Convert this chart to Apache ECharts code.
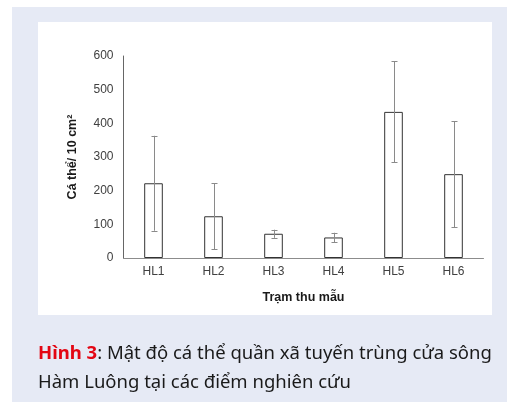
<!DOCTYPE html>
<html><head><meta charset="utf-8">
<script src="https://cdn.jsdelivr.net/npm/echarts@6/dist/echarts.min.js"></script>
<style>html,body{margin:0;padding:0;background:#fff}#c{width:507px;height:402px}</style>
</head><body><div id="c"></div>
<script>
const categories = ['HL1','HL2','HL3','HL4','HL5','HL6'];
const means = [222, 124, 72, 61, 434, 249];
const errors = [141, 98, 12, 14, 150, 157];
const yTicks = {min:0, max:600, interval:100};

const chart = echarts.init(document.getElementById('c'), null, {renderer:'canvas'});
const errData = categories.map((c,i)=>[i, means[i]-errors[i], means[i]+errors[i]]);
chart.setOption({
  animation:false,
  graphic:[
    {type:'rect', z:-10, shape:{x:12,y:7,width:495,height:395}, style:{fill:'#e6eaf5'}},
    {type:'rect', z:-9, shape:{x:38,y:22,width:454,height:293}, style:{fill:'#ffffff'}},
    {type:'text', left:38, top:344, style:{
      rich:{r:{fill:'#e30613', fontWeight:'bold', fontSize:18.5, fontFamily:'Noto Sans'}, n:{fill:'#1a1a1a', fontSize:18.5, fontFamily:'Noto Sans'}},
      text:'{r|Hình 3}{n|: Mật độ cá thể quần xã tuyến trùng cửa sông}'
    }},
    {type:'text', left:38, top:373, style:{
      text:'Hàm Luông tại các điểm nghiên cứu', fill:'#1a1a1a', fontSize:18.5, fontFamily:'Noto Sans'
    }}
  ],
  grid:{left:123.5, right:23.5, top:56, bottom:144},
  xAxis:{type:'category', data:categories,
    axisLine:{lineStyle:{color:'#8c8c8c', width:1}}, axisTick:{show:false},
    axisLabel:{color:'#404040', fontSize:12, fontFamily:'Liberation Sans', margin:8},
    name:'Trạm thu mẫu', nameLocation:'middle', nameGap:33,
    nameTextStyle:{color:'#1a1a1a', fontWeight:'bold', fontSize:12.5, fontFamily:'Liberation Sans'}
  },
  yAxis:{type:'value', min:yTicks.min, max:yTicks.max, interval:yTicks.interval,
    axisLine:{show:true, lineStyle:{color:'#666666', width:1}}, axisTick:{show:false}, splitLine:{show:false},
    axisLabel:{color:'#404040', fontSize:12, fontFamily:'Liberation Sans', margin:10},
    name:'Cá thể/ 10 cm²', nameLocation:'middle', nameGap:44, nameRotate:90,
    nameTextStyle:{color:'#1a1a1a', fontWeight:'bold', fontSize:12.5, fontFamily:'Liberation Sans'}
  },
  series:[
    {type:'bar', data:means, barWidth:'31%', itemStyle:{color:'#ffffff', borderColor:'#333333', borderWidth:1}, z:2},
    {type:'custom', data:errData, z:3,
      renderItem:function(params, api){
        const x = api.value(0);
        const lo = api.coord([x, api.value(1)]);
        const hi = api.coord([x, api.value(2)]);
        const hw = 3;
        const st = {stroke:'#8a8a8a', lineWidth:1};
        return {type:'group', children:[
          {type:'line', shape:{x1:Math.round(lo[0])+0.5, y1:lo[1], x2:Math.round(hi[0])+0.5, y2:hi[1]}, style:st},
          {type:'line', shape:{x1:Math.round(lo[0])-hw+0.5, y1:Math.round(lo[1])+0.5, x2:Math.round(lo[0])+hw+0.5, y2:Math.round(lo[1])+0.5}, style:st},
          {type:'line', shape:{x1:Math.round(hi[0])-hw+0.5, y1:Math.round(hi[1])+0.5, x2:Math.round(hi[0])+hw+0.5, y2:Math.round(hi[1])+0.5}, style:st}
        ]};
      }
    }
  ]
});
</script></body></html>
